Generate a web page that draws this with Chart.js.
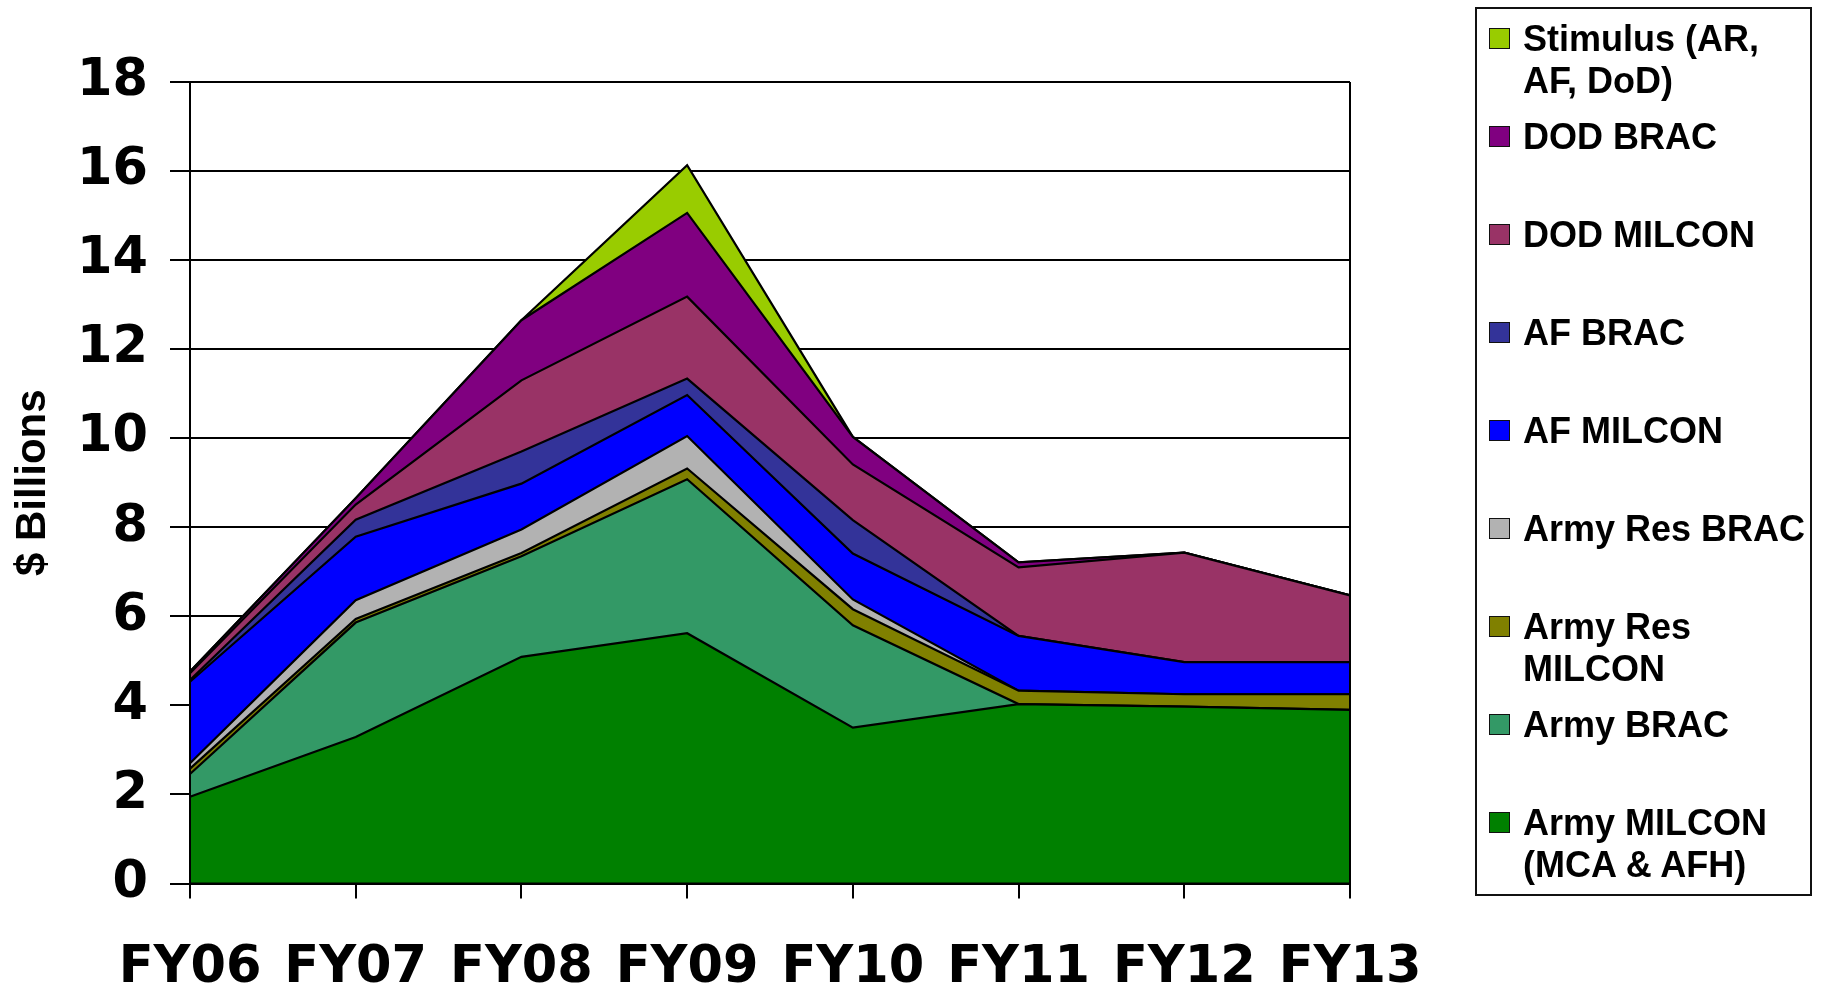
<!DOCTYPE html>
<html>
<head>
<meta charset="utf-8">
<title>MILCON / BRAC funding FY06-FY13</title>
<script src="https://cdn.jsdelivr.net/npm/chart.js@4.4.1/dist/chart.umd.min.js"></script>
<style>
  html, body { margin: 0; padding: 0; background: #fff; }
  #wrap { position: relative; width: 1826px; height: 995px; }
  #chart-box { position: absolute; left: 0; top: 0; width: 1826px; height: 995px; }
  #legend {
    position: absolute; left: 1475px; top: 7px;
    width: 337px; height: 889px;
    border: 2px solid #111;
    padding-top: 9px; box-sizing: border-box;
    font-family: "Liberation Sans", Arial, sans-serif;
    font-weight: bold; font-size: 36px; line-height: 42px; color: #000;
  }
  .lg-item { position: relative; height: 98px; padding-left: 46px; white-space: pre; }
  .lg-swatch {
    position: absolute; left: 12px; top: 10px;
    width: 19px; height: 19px; border: 1.5px solid #111;
  }
</style>
</head>
<body>
<div id="wrap">
  <div id="chart-box"><canvas id="chart"></canvas></div>
  <div id="legend"></div>
</div>
<script>
// --------------------------------------------------
//  data ($ billions)
// --------------------------------------------------
const years  = ['FY06', 'FY07', 'FY08', 'FY09', 'FY10', 'FY11', 'FY12', 'FY13'];
const yTicks = [0, 2, 4, 6, 8, 10, 12, 14, 16, 18];

const armyMilcon    = [1.95, 3.29, 5.09, 5.62, 3.50, 4.03, 3.97, 3.90];
const armyBrac      = [0.51, 2.57, 2.26, 3.46, 2.30, 0, 0, 0];
const armyResMilcon = [0.12, 0.08, 0.07, 0.24, 0.36, 0.30, 0.28, 0.35];
const armyResBrac   = [0.12, 0.42, 0.53, 0.73, 0.22, 0, 0, 0];
const afMilcon      = [1.83, 1.43, 1.03, 0.92, 1.03, 1.23, 0.72, 0.72];
const afBrac        = [0.04, 0.38, 0.72, 0.37, 0.75, 0, 0, 0];
const dodMilcon     = [0.15, 0.34, 1.60, 1.84, 1.25, 1.54, 2.46, 1.50];
const dodBrac       = [0.04, 0.14, 1.35, 1.88, 0.62, 0.11, 0, 0];
const stimulus      = [0, 0, 0, 1.07, 0, 0, 0, 0];

// bottom -> top of the stack
const series = [
  { label: 'Army MILCON\n(MCA & AFH)',  data: armyMilcon,    color: '#008000' },
  { label: 'Army BRAC',                 data: armyBrac,      color: '#339966' },
  { label: 'Army Res\nMILCON',          data: armyResMilcon, color: '#808000' },
  { label: 'Army Res BRAC',             data: armyResBrac,   color: '#B2B2B2' },
  { label: 'AF MILCON',                 data: afMilcon,      color: '#0000FF' },
  { label: 'AF BRAC',                   data: afBrac,        color: '#333399' },
  { label: 'DOD MILCON',                data: dodMilcon,     color: '#993366' },
  { label: 'DOD BRAC',                  data: dodBrac,       color: '#800080' },
  { label: 'Stimulus (AR,\nAF, DoD)',   data: stimulus,      color: '#99CC00' }
];

/* ----------  frame lines drawn over the areas  ---------- */
const frameLines = {
  id: 'frameLines',
  afterDatasetsDraw(chart) {
    const { ctx, chartArea: a } = chart;
    ctx.save();
    ctx.strokeStyle = '#000';
    ctx.lineWidth = 2;
    ctx.beginPath();
    ctx.moveTo(a.left, a.top);   ctx.lineTo(a.left, a.bottom);
    ctx.lineTo(a.right, a.bottom); ctx.lineTo(a.right, a.top);
    ctx.stroke();
    ctx.restore();
  }
};

const chart = new Chart(document.getElementById('chart'), {
  type: 'line',
  data: {
    labels: years,
    datasets: series.map((s, i) => ({
      label: s.label,
      data: s.data,
      backgroundColor: s.color,
      borderColor: '#000',
      borderWidth: 2.2,
      pointRadius: 0,
      tension: 0,
      fill: i === 0 ? 'origin' : '-1'
    }))
  },
  options: {
    responsive: true,
    maintainAspectRatio: false,
    animation: false,
    layout: { padding: { top: 82, right: 476, bottom: 0, left: 0 } },
    plugins: { legend: { display: false }, tooltip: { enabled: false } },
    scales: {
      x: {
        offset: false,
        grid: { drawOnChartArea: false, color: '#000', lineWidth: 2, tickLength: 15 },
        border: { display: false },
        ticks: {
          autoSkip: false, maxRotation: 0, padding: 40, color: '#000',
          font: { family: 'DejaVu Sans', weight: 'bold', size: 51 }
        },
        afterFit: sc => { sc.height = 111.5; }
      },
      y: {
        stacked: true,
        min: 0, max: 18,
        afterBuildTicks: sc => { sc.ticks = yTicks.map(v => ({ value: v })); },
        grid: { color: '#000', lineWidth: 2, tickLength: 20 },
        border: { display: false },
        ticks: {
          padding: 22, color: '#000',
          font: { family: 'DejaVu Sans', weight: 'bold', size: 51 }
        },
        title: {
          display: true, text: '$ Billions', color: '#000',
          padding: { top: 8, bottom: 0 },
          font: { family: 'Liberation Sans', weight: 'bold', size: 42 }
        },
        afterFit: sc => { sc.width = 190; }
      }
    }
  },
  plugins: [frameLines]
});

/* ----------  legend (top of stack first)  ---------- */
const legendEl = document.getElementById('legend');
chart.data.datasets.slice().reverse().forEach(ds => {
  const item = document.createElement('div');
  item.className = 'lg-item';
  const sw = document.createElement('span');
  sw.className = 'lg-swatch';
  sw.style.background = ds.backgroundColor;
  item.appendChild(sw);
  item.appendChild(document.createTextNode(ds.label));
  legendEl.appendChild(item);
});
</script>
</body>
</html>
